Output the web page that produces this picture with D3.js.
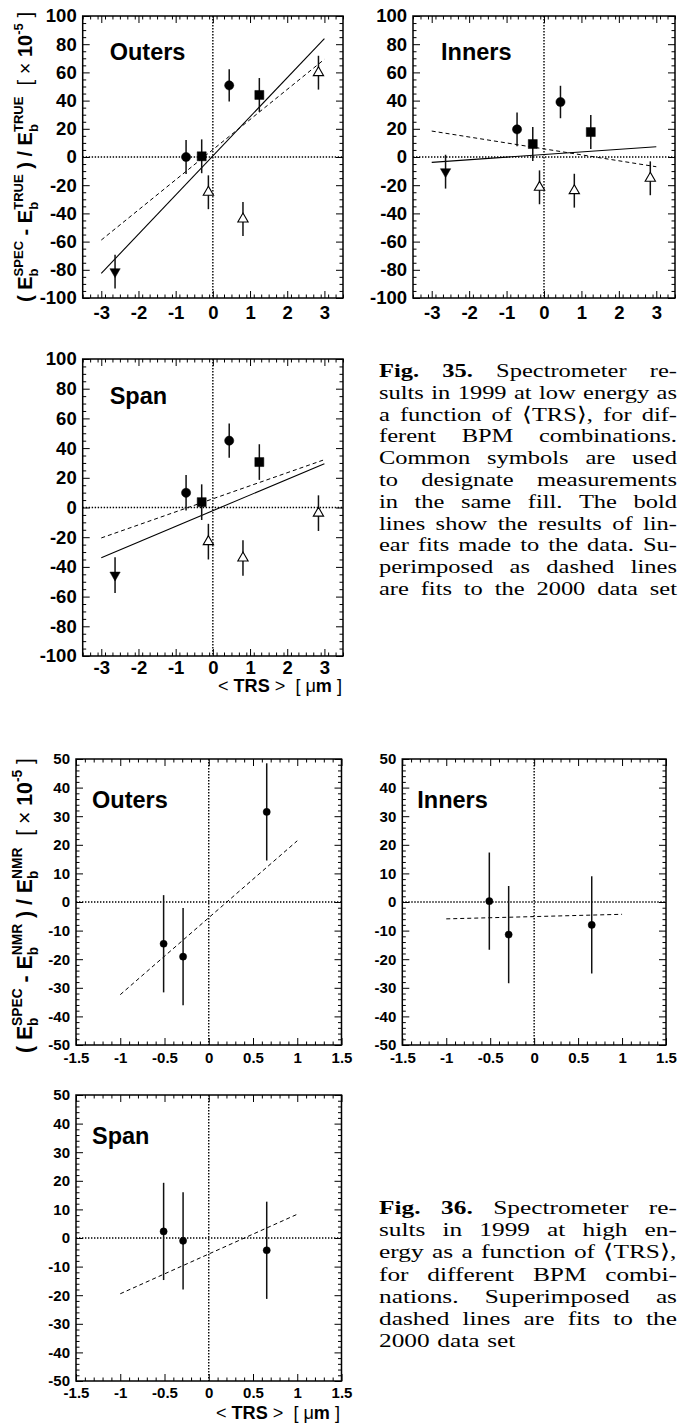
<!DOCTYPE html>
<html><head><meta charset="utf-8">
<script src="https://cdn.jsdelivr.net/npm/d3@7"></script>
<style>body{margin:0;background:#fff} svg{display:block}</style>
</head><body><svg id="c" width="683" height="1423"></svg>
<script>
// ---------- DATA ----------
// Fig. 35 (low energy)
const trsLow = [-2.63, -0.72, -0.30, -0.12, 0.44, 0.81, 1.25, 2.84];
const symLow = ["tridown", "circle", "square", "triup", "circle", "triup", "square", "triup"];
const outersLow = [-81.3, 0.0, 0.5, -25.0, 50.8, -44.0, 44.0, 59.8];
const innersLow = [-10.4, 19.6, 9.2, -21.5, 39.0, -23.9, 17.7, -15.1];
const spanLow = [-45.5, 9.9, 3.6, -23.0, 45.0, -34.0, 30.6, -3.8];
const errLow = [12, 12, 12, 12, 11.5, 12, 12, 12];
const fitXLow = [-3, 3];
const outersFit1999 = [-82.5, 84.0];
const innersFit1999 = [-3.8, 7.3];
const spanFit1999 = [-33.8, 29.5];
const outersFit2000 = [-58.9, 69.3];
const innersFit2000 = [18.4, -6.9];
const spanFit2000 = [-20.5, 32.2];
const xTicksLow = [-3, -2, -1, 0, 1, 2, 3];
const yTicksLow = [-100, -80, -60, -40, -20, 0, 20, 40, 60, 80, 100];

// Fig. 36 (high energy)
const trsHigh = [-0.51, -0.29, 0.655];
const outersHigh = [-14.6, -19.1, 31.5];
const innersHigh = [0.3, -11.4, -8.0];
const spanHigh = [2.3, -1.0, -4.3];
const errHigh = [17, 17, 17];
const fitXHigh = [-1, 1];
const outersFitHigh2000 = [-32.4, 21.4];
const innersFitHigh2000 = [-5.9, -4.3];
const spanFitHigh2000 = [-19.5, 8.3];
const xTicksHigh = [-1.5, -1, -0.5, 0, 0.5, 1, 1.5];
const yTicksHigh = [-50, -40, -30, -20, -10, 0, 10, 20, 30, 40, 50];

const caption35 = [
  "Fig. 35. Spectrometer re-",
  "sults in 1999 at low energy as",
  "a function of \u27E8TRS\u27E9, for dif-",
  "ferent BPM combinations.",
  "Common symbols are used",
  "to designate measurements",
  "in the same fill. The bold",
  "lines show the results of lin-",
  "ear fits made to the data. Su-",
  "perimposed as dashed lines",
  "are fits to the 2000 data set"
];
const caption36 = [
  "Fig. 36. Spectrometer re-",
  "sults in 1999 at high en-",
  "ergy as a function of \u27E8TRS\u27E9,",
  "for different BPM combi-",
  "nations. Superimposed as",
  "dashed lines are fits to the",
  "2000 data set"
];

// ---------- DRAW ----------
const SANS = '"Liberation Sans", Arial, Helvetica, sans-serif';
const SERIF = '"Liberation Serif", "Times New Roman", serif';
const svg = d3.select('#c');

function range(a, b, s) { const out = []; for (let v = a; v <= b + 1e-9; v += s) out.push(+v.toFixed(4)); return out; }

function drawPanel(p) {
  const x = d3.scaleLinear().domain(p.xdom).range([p.left, p.right]);
  const y = d3.scaleLinear().domain(p.ydom).range([p.bottom, p.top]);
  const g = svg.append('g');
  const M = 7, m = 3.5;

  // zero lines
  g.append('line').attr('x1', x(0)).attr('x2', x(0)).attr('y1', p.top).attr('y2', p.bottom)
    .attr('stroke', '#000').attr('stroke-width', 1.4).attr('stroke-dasharray', '1.4,1.6');
  g.append('line').attr('x1', p.left).attr('x2', p.right).attr('y1', y(0)).attr('y2', y(0))
    .attr('stroke', '#000').attr('stroke-width', 1.4).attr('stroke-dasharray', '1.4,1.6');

  const addAxis = (axis, tx, ty, vals, size, labels, pad, fs) => {
    axis.tickValues(vals).tickSize(size).tickSizeOuter(0);
    if (labels) axis.tickFormat(d => String(d)).tickPadding(pad); else axis.tickFormat('');
    const a = g.append('g').attr('transform', `translate(${tx},${ty})`).call(axis);
    a.select('.domain').remove();
    a.selectAll('line').attr('stroke', '#000').attr('stroke-width', 1);
    if (labels) a.selectAll('text').attr('font-family', SANS).attr('font-weight', 'bold')
      .attr('font-size', fs).attr('fill', '#000');
    return a;
  };
  const xMinor = range(p.xdom[0], p.xdom[1], p.xminor).filter(v => !p.xticks.some(t => Math.abs(t - v) < 1e-6));
  const yMinor = range(p.ydom[0], p.ydom[1], p.yminor).filter(v => !p.yticks.some(t => Math.abs(t - v) < 1e-6));

  addAxis(d3.axisBottom(x), 0, p.bottom, p.xticks, -M, true, p.xpad, p.fs);
  addAxis(d3.axisBottom(x), 0, p.bottom, xMinor, -m, false);
  addAxis(d3.axisTop(x), 0, p.top, p.xticks, -M, false);
  addAxis(d3.axisTop(x), 0, p.top, xMinor, -m, false);
  addAxis(d3.axisLeft(y), p.left, 0, p.yticks, -M, true, 6, p.fs);
  addAxis(d3.axisLeft(y), p.left, 0, yMinor, -m, false);
  addAxis(d3.axisRight(y), p.right, 0, p.yticks, -M, false);
  addAxis(d3.axisRight(y), p.right, 0, yMinor, -m, false);

  // fit lines
  if (p.fit) g.append('line').attr('x1', x(p.fitX[0])).attr('x2', x(p.fitX[1]))
    .attr('y1', y(p.fit[0])).attr('y2', y(p.fit[1])).attr('stroke', '#000').attr('stroke-width', 1.1);
  if (p.fit2000) g.append('line').attr('x1', x(p.fitX[0])).attr('x2', x(p.fitX[1]))
    .attr('y1', y(p.fit2000[0])).attr('y2', y(p.fit2000[1])).attr('stroke', '#000')
    .attr('stroke-width', 1).attr('stroke-dasharray', '4,3');

  // error bars
  p.xs.forEach((xv, i) => {
    g.append('line').attr('x1', x(xv)).attr('x2', x(xv))
      .attr('y1', y(p.ys[i] - p.errs[i])).attr('y2', y(p.ys[i] + p.errs[i]))
      .attr('stroke', '#111').attr('stroke-width', 1.5);
  });
  // markers
  p.xs.forEach((xv, i) => {
    const s = p.syms[i];
    let type = d3.symbolCircle, size = p.circleSize, rot = 0, fill = '#000';
    if (s === 'square') { type = d3.symbolSquare; size = 81; }
    if (s === 'triup') { type = d3.symbolTriangle; size = 46; fill = '#fff'; }
    if (s === 'tridown') { type = d3.symbolTriangle; size = 46; rot = 180; }
    g.append('path').attr('d', d3.symbol().type(type).size(size)())
      .attr('transform', `translate(${x(xv)},${y(p.ys[i])}) rotate(${rot})`)
      .attr('fill', fill).attr('stroke', '#000').attr('stroke-width', s === 'triup' ? 1.1 : 0.5);
  });

  // frame
  g.append('rect').attr('x', p.left).attr('y', p.top).attr('width', p.right - p.left)
    .attr('height', p.bottom - p.top).attr('fill', 'none').attr('stroke', '#000').attr('stroke-width', 1.5);

  // title
  g.append('text').attr('x', p.left + p.tdx).attr('y', p.top + p.tdy).attr('font-family', SANS)
    .attr('font-weight', 'bold').attr('font-size', 23.5).attr('fill', '#000').text(p.title);
}

const lowCommon = { xdom: [-3.5, 3.5], ydom: [-100, 100], xticks: xTicksLow, yticks: yTicksLow,
  xminor: 0.2, yminor: 5, fs: 18.5, xpad: 8, fitX: fitXLow, syms: symLow, xs: trsLow, errs: errLow, circleSize: 66 };
const highCommon = { xdom: [-1.5, 1.5], ydom: [-50, 50], xticks: xTicksHigh, yticks: yTicksHigh,
  xminor: 0.1, yminor: 2, fs: 15, xpad: 7, fitX: fitXHigh, syms: ['circle', 'circle', 'circle'],
  xs: trsHigh, errs: errHigh, circleSize: 40 };

drawPanel(Object.assign({}, lowCommon, { left: 82.7, right: 343, top: 16, bottom: 298, ys: outersLow,
  fit: outersFit1999, fit2000: outersFit2000, title: 'Outers', tdx: 27, tdy: 44 }));
drawPanel(Object.assign({}, lowCommon, { left: 413, right: 675, top: 16, bottom: 298, ys: innersLow,
  fit: innersFit1999, fit2000: innersFit2000, title: 'Inners', tdx: 28, tdy: 44 }));
drawPanel(Object.assign({}, lowCommon, { left: 82.7, right: 343, top: 359, bottom: 656, ys: spanLow,
  fit: spanFit1999, fit2000: spanFit2000, title: 'Span', tdx: 27, tdy: 45, xpad: 5 }));
drawPanel(Object.assign({}, highCommon, { left: 76, right: 341.5, top: 759, bottom: 1045, ys: outersHigh,
  fit2000: outersFitHigh2000, title: 'Outers', tdx: 16, tdy: 49 }));
drawPanel(Object.assign({}, highCommon, { left: 402.3, right: 666, top: 759, bottom: 1045, ys: innersHigh,
  fit2000: innersFitHigh2000, title: 'Inners', tdx: 15, tdy: 49 }));
drawPanel(Object.assign({}, highCommon, { left: 76, right: 341.5, top: 1095, bottom: 1381, ys: spanHigh,
  fit2000: spanFitHigh2000, title: 'Span', tdx: 16, tdy: 48.5, xpad: 6 }));

// rich text with sub/superscripts
function rich(parent, segs, base) {
  const g = parent.append('g');
  let xp = 0, stackX = null, stackW = 0;
  segs.forEach(s => {
    const size = base * (s.s || 1);
    const t = g.append('text').attr('font-family', SANS).attr('font-size', size)
      .attr('font-weight', s.b ? 'bold' : 'normal').attr('fill', '#000')
      .style('white-space', 'pre').text(s.t);
    const w = t.node().getComputedTextLength();
    if (s.pos === 'sub') { stackX = xp; stackW = w; t.attr('x', xp).attr('y', base * 0.3); xp += w; }
    else if (s.pos === 'sup') {
      const sx = stackX !== null ? stackX : xp;
      t.attr('x', sx).attr('y', -base * 0.45);
      xp = sx + Math.max(stackW, w); stackX = null; stackW = 0;
    } else { t.attr('x', xp).attr('y', 0); xp += w; stackX = null; stackW = 0; }
  });
  return { g, width: xp };
}
function yTitle(ref, y0, y1) {
  const segs = [
    { t: '( E', b: 1 }, { t: 'b', b: 1, s: 0.65, pos: 'sub' }, { t: 'SPEC', b: 1, s: 0.65, pos: 'sup' },
    { t: ' - E', b: 1 }, { t: 'b', b: 1, s: 0.65, pos: 'sub' }, { t: ref, b: 1, s: 0.65, pos: 'sup' },
    { t: ' ) / E', b: 1 }, { t: 'b', b: 1, s: 0.65, pos: 'sub' }, { t: ref, b: 1, s: 0.65, pos: 'sup' },
    { t: '  [ \u00D7 ' }, { t: '10', b: 1 }, { t: '-5', b: 1, s: 0.65, pos: 'sup' }, { t: ' ]' }
  ];
  const r = rich(svg, segs, 20);
  const k = (y0 - y1) / r.width;
  r.g.attr('transform', `translate(32,${y0}) rotate(-90) scale(${k})`);
}
yTitle('TRUE', 302, 12);
yTitle('NMR', 1053, 758);

function xTitle(right, base) {
  const segs = [{ t: '< ' }, { t: 'TRS', b: 1 }, { t: ' >  [ \u03BC' }, { t: 'm', b: 1 }, { t: ' ]' }];
  const r = rich(svg, segs, 16);
  const k = 124 / r.width;
  r.g.attr('transform', `translate(${right - 124},${base}) scale(${k})`);
}
xTitle(342, 692);
xTitle(340, 1419);

// justified captions (glyphs stretched horizontally to mimic the wider Computer Modern face)
function caption(lines, x0, x1, y0, lh, fs, justifyLast) {
  const W = x1 - x0;
  const g = svg.append('g');
  const rows = lines.map((line, i) => {
    const words = line.split(' ');
    const els = words.map((w, j) => g.append('text').attr('x', 0).attr('y', 0)
      .attr('font-family', SERIF).attr('font-size', fs).attr('fill', '#000')
      .attr('font-weight', (i === 0 && j < 2) ? 'bold' : 'normal').text(w));
    const ws = els.map(e => e.node().getComputedTextLength());
    return { els, ws };
  });
  const space = fs * 0.3;
  const cand = rows.filter((r, i) => i < rows.length - 1 || justifyLast);
  const k = Math.min(1.3, d3.min(cand, r => W / (d3.sum(r.ws) + space * (r.ws.length - 1))));
  rows.forEach((r, i) => {
    const sum = d3.sum(r.ws) * k;
    const just = (i < rows.length - 1) || justifyLast;
    const gap = (just && r.ws.length > 1) ? (W - sum) / (r.ws.length - 1) : space * k;
    let xp = x0;
    r.els.forEach((e, j) => {
      e.attr('transform', `translate(${xp},${y0 + i * lh}) scale(${k},1)`);
      xp += r.ws[j] * k + gap;
    });
  });
}
caption(caption35, 379, 677, 377, 21.8, 19.5, true);
caption(caption36, 379, 677, 1214, 22.2, 19.5, false);
</script>
</body></html>
